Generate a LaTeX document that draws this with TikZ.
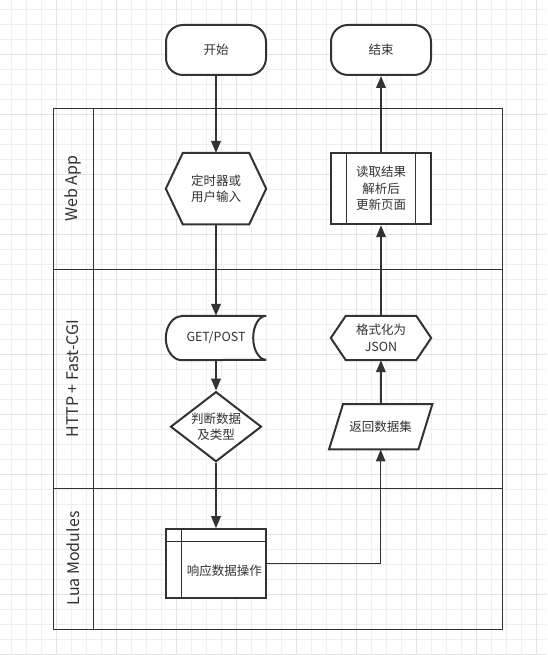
\documentclass[tikz,border=0pt]{standalone}
\usepackage{fontspec}
\setmainfont{Noto Sans CJK SC}
\usetikzlibrary{arrows.meta, calc, shapes.geometric}
\pgfdeclarelayer{back}
\pgfsetlayers{back,main}
\definecolor{ln}{HTML}{333333}
\definecolor{gridlt}{HTML}{EFEFEF}
\definecolor{griddk}{HTML}{E3E3E3}

\begin{document}
\begin{tikzpicture}[
            x = 1pt, y = 1pt, % one unit = one pixel of the sketch
            > = {Triangle[length = 12pt, width = 9.5pt]}, % arrow head style
            line width = 2pt,
            color = ln
        ]

        \tikzstyle{box}=[
            inner sep = 0pt,
            align = center,
            font = \fontsize{12.5}{16.5}\selectfont,
            minimum width = 100pt
        ]
        \tikzstyle{outline}=[draw = ln, fill = white, line width = 2pt]
        \tikzstyle{lane}=[rotate = 90, font = \fontsize{16}{18}\selectfont]
        \tikzstyle{flow}=[->, draw = ln, line width = 2pt]

        \useasboundingbox (0,0) rectangle (547,655);

        % grid
        \begin{pgfonlayer}{back}
            \fill[white] (0,0) rectangle (547,655);
            \foreach \gx in {11.7, 26.7, ..., 547}
                \draw[gridlt, line width = 0.8pt] (\gx,0) -- (\gx,655);
            \foreach \gy in {645.7, 630.7, ..., 0}
                \draw[gridlt, line width = 0.8pt] (0,\gy) -- (547,\gy);
            \foreach \gx in {56.7, 116.7, ..., 547}
                \draw[griddk, line width = 0.8pt] (\gx,0) -- (\gx,655);
            \foreach \gy in {600.7, 540.7, ..., 0}
                \draw[griddk, line width = 0.8pt] (0,\gy) -- (547,\gy);
        \end{pgfonlayer}

        % pool and lanes
        \draw (53,26) rectangle (502,547);
        \draw (93,26) -- (93,547);
        \draw (53,385.7) -- (502,385.7);
        \draw (53,167) -- (502,167);

        \node[lane] (webapp) [at={(73,466.3)}] {Web App};
        \node[lane] (http) [at={(73,276.3)}] {HTTP + Fast-CGI};
        \node[lane] (lua) [at={(73,96.5)}] {Lua Modules};

        \node[box, outline, rounded corners = 17pt, minimum height = 50pt] (start) [at={(216,605)}] {开始};
        \node[box, outline, rounded corners = 17pt, minimum height = 50pt] (stop) [at={(381,605)}] {结束};
        \node[box, minimum height = 71pt] (input) [at={(216,466.3)}] {定时器或\\用户输入};
        \node[box, outline, minimum height = 71pt] (read) [at={(381,466.3)}] {读取结果\\解析后\\更新页面};
        \node[box, minimum height = 44pt] (get) [at={(216,317)}] {GET/POST};
        \node[box, minimum height = 44pt] (json) [at={(381,317)}] {格式化为\\JSON};
        \node[box, diamond, outline, aspect = 1.3, minimum width = 91pt, minimum height = 70pt] (judge) [at={(216,228.3)}] {判断数据\\及类型};
        \node[box, minimum width = 103pt, minimum height = 45pt] (ret) [at={(380.7,228.2)}] {返回数据集};
        \node[box, outline, minimum height = 69pt, text height = 24pt, text depth = 0pt] (store) [at={(216,91.3)}] {\hspace*{16.7pt}响应数据操作};

        % outlines under the texts
        \begin{pgfonlayer}{back}
            \path[outline] ($(input.north west)+(17,0)$) -- ($(input.north east)+(-17,0)$) -- (input.east)
                -- ($(input.south east)+(-17,0)$) -- ($(input.south west)+(17,0)$) -- (input.west) -- cycle;
            \path[outline] ($(json.north west)+(15,0)$) -- ($(json.north east)+(-15,0)$) -- (json.east)
                -- ($(json.south east)+(-15,0)$) -- ($(json.south west)+(15,0)$) -- (json.west) -- cycle;
            \path[outline] ($(get.north west)+(16,0)$) -- (get.north east)
                arc[start angle = 90, end angle = 270, x radius = 13, y radius = 22]
                -- ($(get.south west)+(16,0)$)
                arc[start angle = 270, end angle = 90, x radius = 16, y radius = 22] -- cycle;
            \path[outline] ($(ret.north west)+(14,0)$) -- (ret.north east)
                -- ($(ret.south east)+(-14,0)$) -- (ret.south west) -- cycle;
        \end{pgfonlayer}

        \draw[line width = 1.2pt] ($(read.north west)+(16.5,0)$) -- ($(read.south west)+(16.5,0)$);
        \draw[line width = 1.2pt] ($(read.north east)+(-16.5,0)$) -- ($(read.south east)+(-16.5,0)$);
        \draw[line width = 1.2pt] ($(store.north west)+(0,-13.3)$) -- ($(store.north east)+(0,-13.3)$);
        \draw[line width = 1.2pt] ($(store.north west)+(16.7,0)$) -- ($(store.south west)+(16.7,0)$);

        \draw[flow] (start) -- (input);
        \draw[flow] (input) -- (get);
        \draw[flow] (get) -- (judge);
        \draw[flow] (judge) -- (store);
        \draw[flow, line width = 1.4pt] (store.east) -| (ret);
        \draw[flow] (ret) -- (json);
        \draw[flow] (json) -- (read);
        \draw[flow] (read) -- (stop);
    \end{tikzpicture}
\end{document}
